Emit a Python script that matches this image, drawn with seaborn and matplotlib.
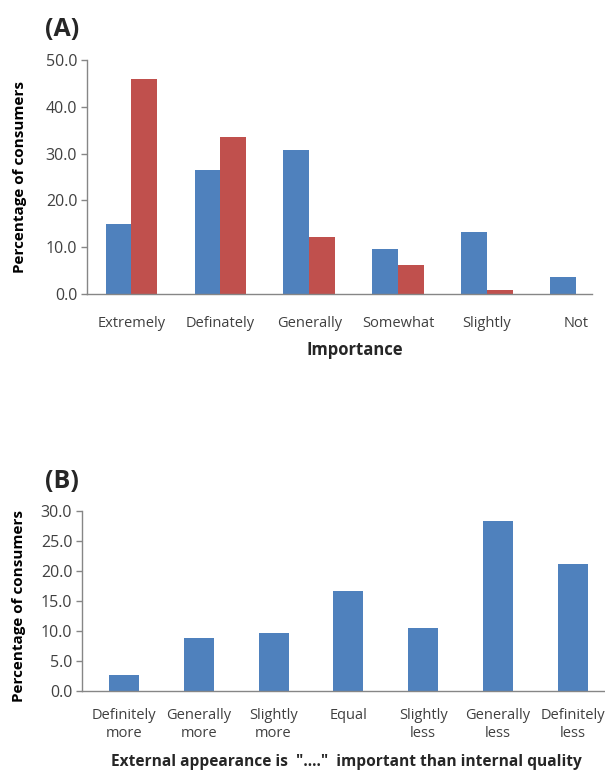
import numpy as np
import pandas as pd
import matplotlib
matplotlib.use("Agg")
import matplotlib.pyplot as plt
import seaborn as sns

# ===== data =====
importance_levels = ["Extremely", "Definately", "Generally", "Somewhat", "Slightly", "Not"]
series_blue = [15.0, 26.5, 30.8, 9.6, 13.3, 3.6]
series_red = [45.9, 33.5, 12.2, 6.2, 0.8, 0.0]

compare_levels = ["Definitely\nmore", "Generally\nmore", "Slightly\nmore", "Equal",
                  "Slightly\nless", "Generally\nless", "Definitely\nless"]
compare_values = [2.7, 8.8, 9.6, 16.7, 10.5, 28.3, 21.1]

blue = "#4F81BD"
red = "#C0504D"
spine_col = "#868686"
tick_col = "#404040"

sns.set_theme(style="white")
plt.rcParams['font.family'] = ['Open Sans', 'DejaVu Sans']

fig = plt.figure(figsize=(6.05, 7.71), dpi=100)

# ===== (A) =====
df_a = pd.DataFrame({
    "level": importance_levels * 2,
    "value": series_blue + series_red,
    "series": ["blue"] * len(series_blue) + ["red"] * len(series_red),
})
ax1 = fig.add_axes([87 / 605, 1 - 294 / 771, (592 - 87) / 605, (294 - 60) / 771])
sns.barplot(data=df_a, x="level", y="value", hue="series", order=importance_levels,
            palette={"blue": blue, "red": red}, width=0.58, saturation=1,
            linewidth=0, legend=False, ax=ax1)
ax1.set_xlim(-0.5, 5.18)
ax1.set_ylim(0, 50)
ax1.set_yticks(np.arange(0, 51, 10))
ax1.set_yticklabels([f"{v:.1f}" for v in np.arange(0, 51, 10)])

# ===== (B) =====
df_b = pd.DataFrame({"level": compare_levels, "value": compare_values})
ax2 = fig.add_axes([82 / 605, 1 - 691 / 771, (605 - 82) / 605, (691 - 511) / 771])
sns.barplot(data=df_b, x="level", y="value", order=compare_levels, color=blue,
            width=0.4, saturation=1, linewidth=0, ax=ax2)
ax2.set_xlim(-0.56, 6.43)
ax2.set_ylim(0, 30)
ax2.set_yticks(np.arange(0, 31, 5))
ax2.set_yticklabels([f"{v:.1f}" for v in np.arange(0, 31, 5)])

for ax in (ax1, ax2):
    sns.despine(ax=ax)
    for s in ("left", "bottom"):
        ax.spines[s].set_color(spine_col)
        ax.spines[s].set_linewidth(1.0)
    ax.tick_params(axis="y", which="major", left=True, length=4, width=1,
                   color=spine_col, labelsize=11.5, labelcolor=tick_col, pad=3)
    ax.tick_params(axis="x", bottom=False, labelsize=10.5, labelcolor=tick_col, pad=10)
    ax.set_ylabel("Percentage of consumers", fontsize=11, fontweight="bold",
                  color="black")

ax1.set_xlabel("Importance", fontsize=12, fontweight="bold", labelpad=10)
ax1.xaxis.set_label_coords(0.53, -0.2)
ax1.yaxis.set_label_coords(-0.118, 0.5)
ax2.set_xlabel('External appearance is  "...."  important than internal quality',
               fontsize=11.2, fontweight="bold", va="center")
ax2.xaxis.set_label_coords(0.505, -0.395)
ax2.yaxis.set_label_coords(-0.107, 0.47)
ax2.tick_params(axis="x", pad=6)
for lab in ax2.get_xticklabels():
    lab.set_linespacing(1.3)

fig.text(45 / 605, 1 - 30 / 771, "(A)", fontsize=18, fontweight="bold", va="center")
fig.text(45 / 605, 1 - 481 / 771, "(B)", fontsize=18, fontweight="bold", va="center")

fig.savefig("out.png", dpi=100)
